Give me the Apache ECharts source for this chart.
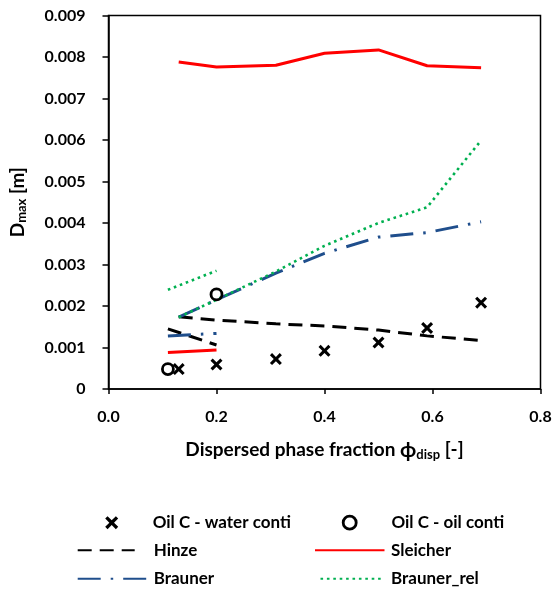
<!DOCTYPE html>
<html>
<head>
<meta charset="utf-8">
<script src="https://cdn.jsdelivr.net/npm/echarts@6/dist/echarts.min.js"></script>
<style>
  html, body { margin: 0; padding: 0; background: #fff; }
  #chart { width: 555px; height: 590px; }
</style>
</head>
<body>
<div id="chart"></div>
<script>
// Dispersed phase fraction for each test series
const phiWater = [0.13, 0.2, 0.31, 0.4, 0.5, 0.59, 0.69];
const phiOil = [0.11, 0.2];

// Measured maximum droplet diameters [m]
const waterConti = [0.00048, 0.00059, 0.00072, 0.00092, 0.00112, 0.00147, 0.00208];
const oilConti = [0.00048, 0.00228];

// Model predictions, water continuous
const hinzeWater = [0.00174, 0.00166, 0.00157, 0.00152, 0.00142, 0.00128, 0.00117];
const sleicherWater = [0.00788, 0.00776, 0.0078, 0.00809, 0.00817, 0.00779, 0.00774];
const braunerWater = [0.00173, 0.00215, 0.00279, 0.00327, 0.00366, 0.00377, 0.00403];
const braunerRelWater = [0.00173, 0.00215, 0.00283, 0.00345, 0.004, 0.00438, 0.00599];

// Model predictions, oil continuous
const hinzeOil = [0.00145, 0.00106];
const sleicherOil = [0.00088, 0.00094];
const braunerOil = [0.00128, 0.00134];
const braunerRelOil = [0.00239, 0.00285];

// Axis ticks
const xTicks = [0, 0.2, 0.4, 0.6, 0.8];
const yTicks = [0, 0.001, 0.002, 0.003, 0.004, 0.005, 0.006, 0.007, 0.008, 0.009];

const FONT = 'Lato, "Liberation Sans", sans-serif';
const pairs = (xs, ys) => xs.map((x, i) => [x, ys[i]]);

const crossPath = 'path://M0,1.8 L1.8,0 L5,3.2 L8.2,0 L10,1.8 L6.8,5 L10,8.2 L8.2,10 L5,6.8 L1.8,10 L0,8.2 L3.2,5 Z';

const styles = {
  'Hinze': { color: '#000', width: 3, type: [14, 8] },
  'Sleicher': { color: '#ff0000', width: 3, type: 'solid' },
  'Brauner': { color: '#1f4e8c', width: 3, type: [23, 10, 2.5, 10] },
  'Brauner_rel': { color: '#00b050', width: 2.6, type: [2.6, 3.8] }
};

function lineSeries(name, xs, ys) {
  const s = styles[name];
  return {
    name, type: 'line', data: pairs(xs, ys), symbol: 'none', z: 2,
    itemStyle: { color: s.color },
    lineStyle: { color: s.color, width: s.width, type: s.type }
  };
}

const series = [
  lineSeries('Hinze', phiWater, hinzeWater),
  lineSeries('Hinze', phiOil, hinzeOil),
  lineSeries('Sleicher', phiWater, sleicherWater),
  lineSeries('Sleicher', phiOil, sleicherOil),
  lineSeries('Brauner', phiWater, braunerWater),
  lineSeries('Brauner', phiOil, braunerOil),
  lineSeries('Brauner_rel', phiWater, braunerRelWater),
  lineSeries('Brauner_rel', phiOil, braunerRelOil),
  {
    name: 'Oil C - water conti', type: 'scatter', data: pairs(phiWater, waterConti),
    symbol: crossPath, symbolSize: 12, z: 3,
    itemStyle: { color: '#000', opacity: 1 }
  },
  {
    name: 'Oil C - oil conti', type: 'scatter', data: pairs(phiOil, oilConti),
    symbol: 'circle', symbolSize: 11, z: 3,
    itemStyle: { color: 'rgba(255,255,255,0)', borderColor: '#000', borderWidth: 2.8, opacity: 1 }
  }
];

const legendFont = { fontFamily: FONT, fontWeight: 'bold', fontSize: 17, color: '#000' };

// One legend entry: sample drawn from `left` over `width`, label starting at `textLeft`
function legendEntry(entry, left, rowCenter, width, textLeft) {
  const spacer = Math.max(0, textLeft - (left + width + 5));
  return {
    data: [entry],
    left, top: rowCenter - 6.5, padding: 0,
    itemWidth: width, itemHeight: 13,
    formatter: n => '{p| }' + n,
    textStyle: Object.assign({}, legendFont, { rich: { p: { width: spacer } } }),
    selectedMode: false
  };
}

// Line sample (symbol hidden)
const lineLegend = (name, left, row, width, textLeft) =>
  legendEntry({ name, itemStyle: { opacity: 0 } }, left, row, width, textLeft);

// Marker sample centred at `center`
const markerLegend = (name, center, row, textLeft, itemStyle) =>
  legendEntry(itemStyle ? { name, itemStyle } : { name }, center - 6.5, row, 13, textLeft);

const option = {
  backgroundColor: '#fff',
  animation: false,
  grid: {
    left: 107.5, right: 14.5, top: 15.5, bottom: 201,
    show: true, borderColor: '#000', borderWidth: 1.5
  },
  xAxis: {
    type: 'value', min: 0, max: 0.8, interval: 0.2,
    name: '{b|Dispersed phase fraction }{g|ϕ}{s|disp}{b| [-]}',
    nameLocation: 'middle', nameGap: 50,
    nameTextStyle: {
      fontFamily: FONT, fontWeight: 'bold', fontSize: 19, color: '#000',
      rich: {
        g: { fontFamily: FONT, fontWeight: 'bold', fontSize: 21, color: '#000', lineHeight: 22 },
        s: { fontFamily: FONT, fontWeight: 'bold', fontSize: 13, color: '#000', lineHeight: 12, verticalAlign: 'bottom' },
        b: { fontFamily: FONT, fontWeight: 'bold', fontSize: 19, color: '#000', lineHeight: 22 }
      }
    },
    axisLine: { show: true, onZero: false, lineStyle: { color: '#000', width: 1.5 } },
    axisTick: { show: true, length: 5, lineStyle: { color: '#000', width: 1.5 } },
    axisLabel: {
      margin: 20, fontFamily: FONT, fontWeight: 'bold', fontSize: 16, color: '#000',
      formatter: v => v.toFixed(1)
    },
    splitLine: { show: false }
  },
  yAxis: {
    type: 'value', min: 0, max: 0.009, interval: 0.001,
    name: '{b|D}{s|max}{b| [m]}',
    nameLocation: 'middle', nameRotate: 90, nameGap: 80,
    nameTextStyle: {
      fontFamily: FONT, fontWeight: 'bold', fontSize: 19, color: '#000',
      rich: {
        s: { fontFamily: FONT, fontWeight: 'bold', fontSize: 13, color: '#000', lineHeight: 12, verticalAlign: 'bottom' },
        b: { fontFamily: FONT, fontWeight: 'bold', fontSize: 19, color: '#000', lineHeight: 22 }
      }
    },
    axisLine: { show: true, onZero: false, lineStyle: { color: '#000', width: 1.5 } },
    axisTick: { show: true, length: 6, lineStyle: { color: '#000', width: 1.5 } },
    axisLabel: {
      margin: 23, fontFamily: FONT, fontWeight: 'bold', fontSize: 16, color: '#000',
      formatter: v => {
        const i = yTicks.findIndex(t => Math.abs(t - v) < 1e-9);
        return i === 0 ? '0' : yTicks[i].toFixed(3);
      }
    },
    splitLine: { show: false }
  },
  legend: [
    markerLegend('Oil C - water conti', 111.7, 520.7, 152.7),
    markerLegend('Oil C - oil conti', 348.3, 520.7, 390,
      { color: '#fff', borderColor: '#000', borderWidth: 2.8 }),
    lineLegend('Hinze', 76.7, 548.3, 57, 152.7),
    lineLegend('Sleicher', 314, 548.3, 69.5, 390),
    lineLegend('Brauner', 76.7, 576.7, 70.5, 152.7),
    lineLegend('Brauner_rel', 319.5, 576.7, 64, 390)
  ],
  series
};

const chart = echarts.init(document.getElementById('chart'), null, { renderer: 'canvas' });
chart.setOption(option);
</script>
</body>
</html>
